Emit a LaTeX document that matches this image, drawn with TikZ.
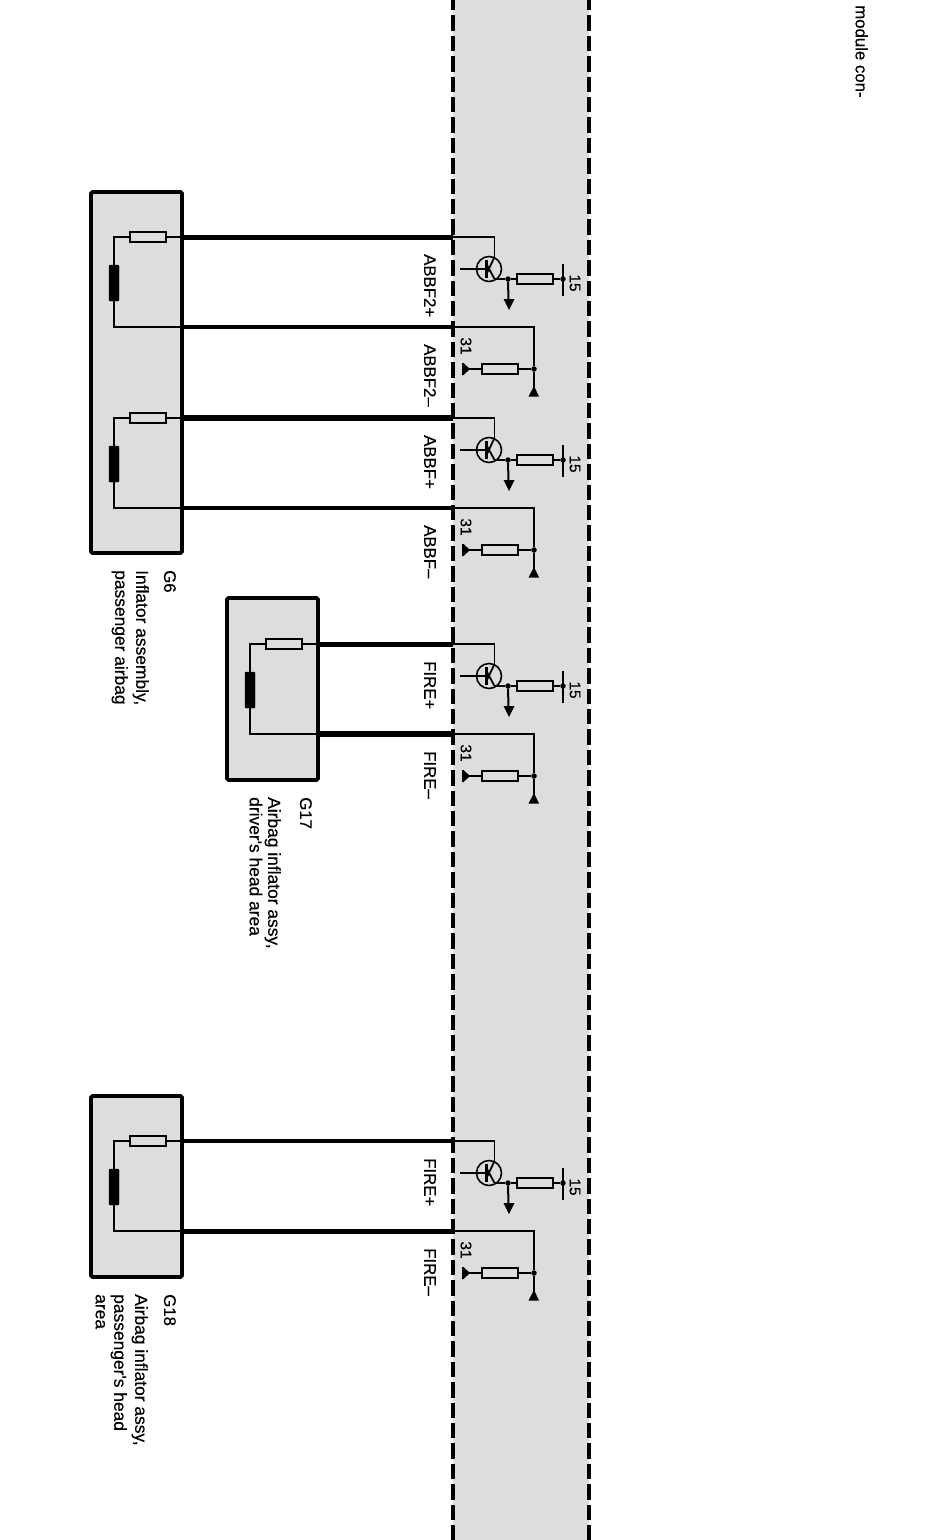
\documentclass[tikz,border=0pt]{standalone}
\usepackage{fontspec}
\setmainfont{Liberation Sans}
\newfontfamily\heavy[FakeBold=0.35]{Liberation Sans}
\newcommand\lbl{\heavy\fontsize{16.8}{21}\selectfont}
\newcommand\dsc{\heavy\fontsize{17.4}{21}\selectfont}
\newcommand\num{\heavy\fontsize{15.5}{19}\selectfont}
\definecolor{bandgray}{gray}{0.865}
\tikzset{
  x=1pt,y=-1pt,
  thinw/.style={line width=1.8pt,black},
  boxn/.style={draw=black,line width=3.6pt,fill=bandgray,rounded corners=1.5pt,inner sep=0pt,minimum width=91pt},
  resn/.style={draw=black,line width=1.5pt,fill=bandgray,inner sep=0pt,minimum width=36pt,minimum height=10pt},
  coiln/.style={draw=black,fill=black,rounded corners=1pt,inner sep=0pt,minimum width=10pt,minimum height=36pt},
  dotn/.style={circle,fill=black,inner sep=0pt,minimum size=5.5pt},
  txt/.style={rotate=-90,anchor=north west,inner sep=0pt,align=left,font=\dsc},
  txtc/.style={rotate=-90,anchor=center,inner sep=0pt,font=\num},
  txtl/.style={rotate=-90,anchor=west,inner sep=0pt,font=\lbl},
  bord/.style={line width=3.6pt,black,dash pattern=on 15.4pt off 5pt},
}
% #1 prefix, #2 y offset, #3 plus label, #4 minus label
\newcommand\drv[4]{%
 \begin{scope}[shift={(0,#2)}]
  \coordinate (#1p) at (453,237);
  \coordinate (#1m) at (453,327);
  \coordinate (#1col) at (494.5,237);
  \coordinate (#1vr) at (534,327);
  \node[circle,draw=black,line width=1.6pt,inner sep=0pt,minimum size=25pt] (#1q) at (489,269) {};
  \coordinate (#1base) at (460,269);
  \coordinate (#1bar) at (486.5,269);
  \coordinate (#1bt) at (486.5,260);
  \coordinate (#1bb) at (486.5,278);
  \coordinate (#1c) at (494.5,257);
  \coordinate (#1e) at (494.5,279);
  \node[dotn] (#1j1) at (508,279) {};
  \node[resn] (#1r15) at (535,279) {};
  \node[dotn] (#1j15) at (563,279) {};
  \coordinate (#1b1) at (563,264);
  \coordinate (#1b2) at (563,296);
  \coordinate (#1g1) at (508.5,301);
  \node[dotn] (#1j31) at (534,369) {};
  \node[resn] (#1r31) at (500,369) {};
  \coordinate (#1g2) at (468,369);
  \coordinate (#1g3) at (534,388);
  \draw[thinw] (#1p) -- (#1col) -- (#1c);
  \draw[line width=2.8pt] (#1bt) -- (#1bb);
  \draw[thinw] (#1base) -- (#1bar);
  \draw[thinw] (#1c) -- ([yshift=-5pt]#1bar);
  \draw[thinw] (#1e) -- ([yshift=5pt]#1bar);
  \draw[thinw] (#1e) -- (#1j1) -- (#1r15) -- (#1j15);
  \draw[thinw] (#1b1) -- (#1b2);
  \draw[line width=2pt] (#1j1) -- (#1g1);
  \fill (503.5,299) -- (514.5,299) -- (509,310) -- cycle;
  \draw[line width=2.3pt] (#1m) -- (#1vr) -- (#1j31) -- (#1g3);
  \draw[thinw] (#1j31) -- (#1r31) -- (#1g2);
  \fill (462,363) -- (463.5,363) -- (470,369) -- (463.5,375) -- (462,375) -- cycle;
  \fill (534,386) -- (539,396.5) -- (528.5,396.5) -- cycle;
  \node[txtc] (#1l15) at (575,283) {15};
  \node[txtc] (#1l31) at (466,346) {31};
  \node[txtl] (#1lp) at (430,254) {#3};
  \node[txtl] (#1lm) at (430,344) {#4};
 \end{scope}}
% #1 prefix, #2 x offset, #3 y offset
\newcommand\infl[3]{%
 \begin{scope}[shift={(#2,#3)}]
  \coordinate (#1in) at (182,237);
  \coordinate (#1out) at (182,327);
  \node[resn] (#1res) at (148,237) {};
  \node[coiln] (#1coil) at (114,283) {};
  \coordinate (#1k1) at (114,237);
  \coordinate (#1k2) at (114,327);
  \draw[thinw] (#1in) -- (#1res) -- (#1k1) -- (#1coil) -- (#1k2) -- (#1out);
 \end{scope}}
\begin{document}
\begin{tikzpicture}
\useasboundingbox (0,0) rectangle (952,1540);
\fill[white] (0,0) rectangle (952,1540);
\fill[bandgray] (453,-5) rectangle (589,1545);
\coordinate (bl1) at (453,-5); \coordinate (bl2) at (453,1545);
\coordinate (br1) at (589,-5); \coordinate (br2) at (589,1545);
\draw[bord] (bl1) -- (bl2);
\draw[bord] (br1) -- (br2);
\node[boxn,minimum height=361pt] (G6) at (136.5,372.5) {};
\node[boxn,minimum height=182pt] (G17) at (272.5,689) {};
\node[boxn,minimum height=181pt] (G18) at (136.5,1186.5) {};
\infl{a}{0}{0}
\infl{b}{0}{181}
\infl{c}{136}{407}
\infl{d}{0}{904}
\drv{a}{0}{ABBF2+}{ABBF2–}
\drv{b}{181}{ABBF+}{ABBF–}
\drv{c}{407}{FIRE+}{FIRE–}
\drv{d}{904}{FIRE+}{FIRE–}
\foreach \w/\p/\q in {a/5/4.5,b/6/4.5,c/5/6.5,d/4.2/5}{
  \draw[line width=\p pt] (\w in) -- (\w p);
  \draw[line width=\q pt] (\w out) -- (\w m);
}
\node[txt,font=\lbl] (t6) at (176,570) {G6};
\node[txt] (d6) at (149,570) {Inflator assembly,\\[0pt]passenger airbag};
\node[txt,font=\lbl] (t17) at (312,797) {G17};
\node[txt] (d17) at (281,797) {Airbag inflator assy,\\[-2.5pt]driver's head area};
\node[txt,font=\lbl] (t18) at (176,1294) {G18};
\node[txt] (d18) at (148,1294) {Airbag inflator assy,\\[0pt]passenger's head\\[-2.5pt]area};
\node[txt,font=\lbl] (top) at (868,5) {module con-};
\end{tikzpicture}
\end{document}
